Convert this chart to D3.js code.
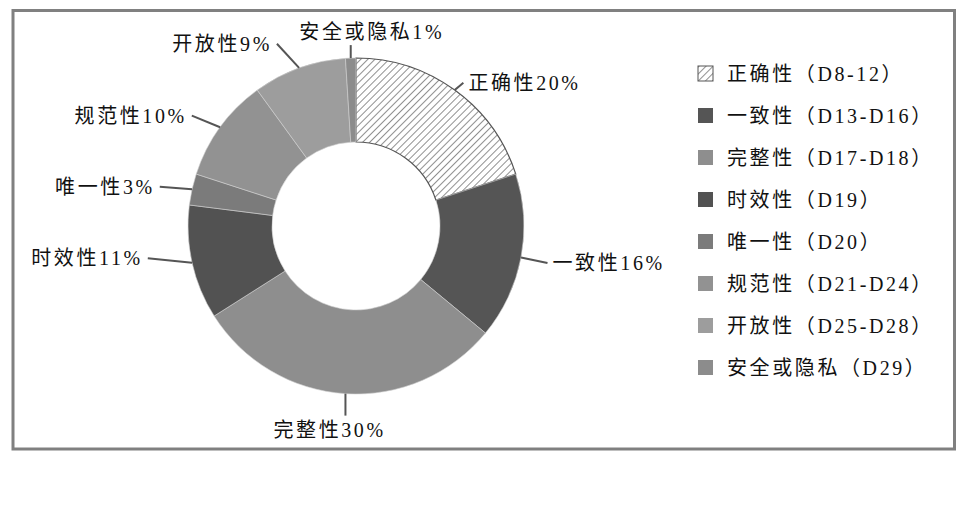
<!DOCTYPE html>
<html>
<head>
<meta charset="utf-8">
<script src="https://cdn.jsdelivr.net/npm/d3@7/dist/d3.min.js"></script>
<style>
  html, body { margin: 0; padding: 0; background: #fff; }
  svg text { font-family: "Liberation Serif", "Noto Sans CJK SC", serif; font-size: 20px; fill: #111; letter-spacing: 2.6px; }
</style>
</head>
<body>
<svg id="chart" width="961" height="523"></svg>
<script>
// Data quality dimensions and their share of indicators
const categories = ["正确性", "一致性", "完整性", "时效性", "唯一性", "规范性", "开放性", "安全或隐私"];
const percentages = [20, 16, 30, 11, 3, 10, 9, 1];
const indicatorRanges = ["D8-12", "D13-D16", "D17-D18", "D19", "D20", "D21-D24", "D25-D28", "D29"];

// Slice fills (first slice uses a hatch pattern)
const fills = ["url(#hatch)", "#555555", "#8e8e8e", "#525252", "#7b7b7b", "#929292", "#9d9d9d", "#8c8c8c"];
// Small offsets to fine-tune each outside label's placement
const labelNudge = [[-4, 17], [2, 0], [-14, 6], [-20, -11], [-8, 4], [-9, 6], [-17, 4], [22, 4]];

const svg = d3.select("#chart");
const cx = 356, cy = 226, rOuter = 168, rInner = 84, rLabel = 198;

// hatch pattern
const defs = svg.append("defs");
const pat = defs.append("pattern")
  .attr("id", "hatch").attr("patternUnits", "userSpaceOnUse")
  .attr("width", 5).attr("height", 5)
  .attr("patternTransform", "rotate(45)");
pat.append("rect").attr("width", 5).attr("height", 5).attr("fill", "#fff");
pat.append("line").attr("x1", 0).attr("y1", 0).attr("x2", 0).attr("y2", 5)
  .attr("stroke", "#222").attr("stroke-width", 1);

// chart frame
svg.append("rect")
  .attr("x", 13).attr("y", 10.5).attr("width", 941.5).attr("height", 438.5)
  .attr("fill", "#fff").attr("stroke", "#808080").attr("stroke-width", 3);

const data = categories.map((c, i) => ({ name: c, value: percentages[i], range: indicatorRanges[i], i }));

const pie = d3.pie().value(d => d.value).sort(null).startAngle(0).endAngle(2 * Math.PI);
const arcs = pie(data);
const arc = d3.arc().innerRadius(rInner).outerRadius(rOuter);

const g = svg.append("g").attr("transform", `translate(${cx},${cy})`);

g.selectAll("path.slice").data(arcs).enter().append("path")
  .attr("class", "slice")
  .attr("d", arc)
  .attr("fill", d => fills[d.data.i])
  .attr("stroke", d => d.data.i === 0 ? "#555" : "#d0d0d0")
  .attr("stroke-width", d => d.data.i === 0 ? 1.2 : 0.6);

// outside labels with leader lines
const polar = (a, r) => [r * Math.sin(a), -r * Math.cos(a)];

arcs.forEach(d => {
  const mid = (d.startAngle + d.endAngle) / 2;
  const p0 = polar(mid, rOuter);
  const base = polar(mid, rLabel);
  const nd = labelNudge[d.data.i];
  const lx = base[0] + nd[0], ly = base[1] + nd[1];
  const s = Math.sin(mid), c = Math.cos(mid);
  let anchor, end;
  if (Math.abs(s) < 0.15) {
    anchor = "middle";
    end = [p0[0], c > 0 ? ly + 13 : ly - 14];
  } else if (s > 0) {
    anchor = "start";
    end = [lx - 5, ly];
  } else {
    anchor = "end";
    end = [lx + 5, ly];
  }
  g.append("line")
    .attr("x1", p0[0]).attr("y1", p0[1]).attr("x2", end[0]).attr("y2", end[1])
    .attr("stroke", "#555").attr("stroke-width", 2);
  g.append("text")
    .attr("x", lx).attr("y", ly).attr("dy", "0.36em")
    .attr("text-anchor", anchor)
    .text(`${d.data.name}${d.data.value}%`);
});

// legend
const legend = svg.append("g").attr("transform", "translate(698,73.5)");
const rows = legend.selectAll("g").data(data).enter().append("g")
  .attr("transform", (d, i) => `translate(0,${i * 42})`);
rows.append("rect")
  .attr("x", 0).attr("y", -7.5).attr("width", 15).attr("height", 15)
  .attr("fill", d => fills[d.i])
  .attr("stroke", d => d.i === 0 ? "#555" : "none").attr("stroke-width", 1);
rows.append("text")
  .attr("x", 29).attr("y", 0).attr("dy", "0.36em")
  .text(d => `${d.name}（${d.range}）`);
</script>
</body>
</html>
